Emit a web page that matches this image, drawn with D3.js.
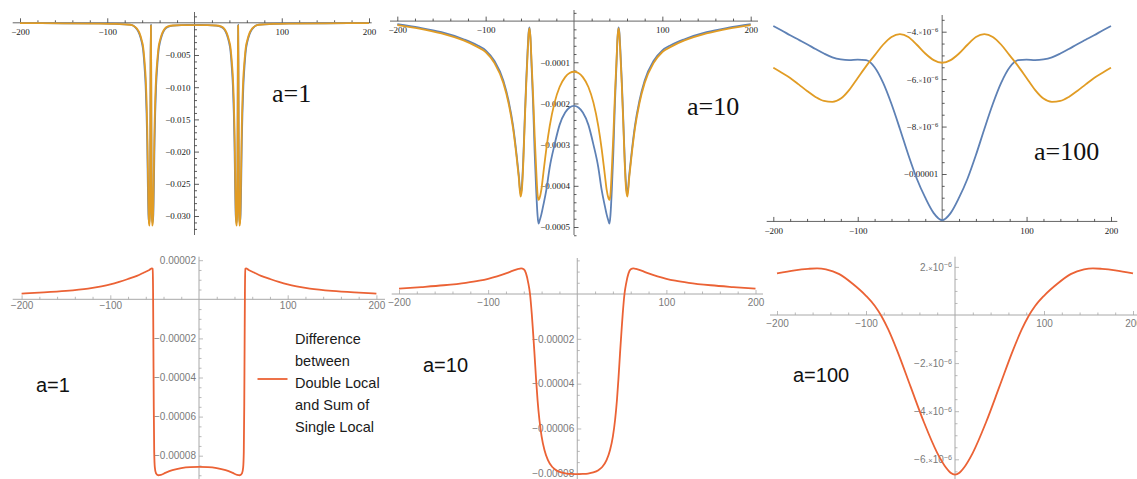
<!DOCTYPE html>
<html><head><meta charset="utf-8">
<script src="https://cdn.jsdelivr.net/npm/d3@7"></script>
<style>body{margin:0;background:#fff}svg{display:block}</style>
</head><body>
<svg id="c" width="1137" height="479"></svg>
<script>
// ---------------- DATA ----------------
const xTicks = [-200, -100, 100, 200];
const xTickLabels = ['\u2212200', '\u2212100', '100', '200'];

// Panel A (a=1, top-left)
const xA = [-200,-150,-110,-90,-80,-74,-70,-66,-63,-60.5,-59,-58,-57,-56,-55,-54.2,-53.5,-52.8,-52.1,-51.5,-51,-50.6,-50.3,-50,-49.7,-49.4,-49,-48.5,-47.9,-47.2,-46.5,-45.8,-45,-44,-43,-42,-41,-39.5,-37,-34,-30,-25,-15,0,
  15,25,30,34,37,39.5,41,42,43,44,45,45.8,46.5,47.2,47.9,48.5,49,49.4,49.7,50,50.3,50.6,51,51.5,52.1,52.8,53.5,54.2,55,56,57,58,59,60.5,63,66,70,74,80,90,110,150,200];
const orangeA = [-0.00005,-0.00008,-0.00012,-0.00018,-0.00025,-0.0003,-0.00045,-0.0009,-0.0016,-0.0027,-0.0036,-0.0048,-0.0064,-0.0084,-0.0118,-0.016,-0.022,-0.028,-0.0312,-0.0315,-0.029,-0.018,-0.006,-0.0004,-0.006,-0.018,-0.029,-0.0315,-0.0312,-0.028,-0.022,-0.016,-0.0118,-0.0084,-0.0064,-0.0048,-0.0036,-0.0027,-0.0016,-0.0009,-0.00055,-0.00042,-0.00036,-0.00035,
  -0.00036,-0.00042,-0.00055,-0.0009,-0.0016,-0.0027,-0.0036,-0.0048,-0.0064,-0.0084,-0.0118,-0.016,-0.022,-0.028,-0.0312,-0.0315,-0.029,-0.018,-0.006,-0.0004,-0.006,-0.018,-0.029,-0.0315,-0.0312,-0.028,-0.022,-0.016,-0.0118,-0.0084,-0.0064,-0.0048,-0.0036,-0.0027,-0.0016,-0.0009,-0.00045,-0.0003,-0.00025,-0.00018,-0.00012,-0.00008,-0.00005];
const blueA = [-0.00004,-0.00007,-0.0001,-0.00016,-0.00023,-0.00028,-0.00045,-0.001,-0.0018,-0.003,-0.0041,-0.0055,-0.0074,-0.0098,-0.0138,-0.0185,-0.025,-0.0298,-0.031,-0.031,-0.0285,-0.017,-0.0055,-0.0003,-0.0055,-0.017,-0.0285,-0.031,-0.031,-0.0298,-0.025,-0.0185,-0.0138,-0.0098,-0.0074,-0.0055,-0.0041,-0.003,-0.0018,-0.001,-0.0006,-0.00043,-0.00035,-0.00034,
  -0.00035,-0.00043,-0.0006,-0.001,-0.0018,-0.003,-0.0041,-0.0055,-0.0074,-0.0098,-0.0138,-0.0185,-0.025,-0.0298,-0.031,-0.031,-0.0285,-0.017,-0.0055,-0.0003,-0.0055,-0.017,-0.0285,-0.031,-0.031,-0.0298,-0.025,-0.0185,-0.0138,-0.0098,-0.0074,-0.0055,-0.0041,-0.003,-0.0018,-0.001,-0.00045,-0.00028,-0.00023,-0.00016,-0.0001,-0.00007,-0.00004];
const yTicksA = [-0.005,-0.010,-0.015,-0.020,-0.025,-0.030];
const yLabelsA = ['\u22120.005','\u22120.010','\u22120.015','\u22120.020','\u22120.025','\u22120.030'];

// Panel B (a=10, top-middle)
const xB = [-200,-175,-150,-125,-110,-100,-90,-80,-74,-69,-65,-62.5,-60.5,-59,-57.5,-55.8,-54,-52.5,-51.3,-50.3,-49.3,-48,-46.3,-44.5,-42.8,-41.3,-40.2,-39,-37,-35,-31.3,-27.5,-22,-16.3,-10,-5,0,5,10,16.3,22,27.5,31.3,35,37,39,40.2,41.3,42.8,44.5,46.3,48,49.3,50.3,51.3,52.5,54,55.8,57.5,59,60.5,62.5,65,69,74,80,90,100,110,125,150,175,200];
const orangeB = [-0.0000095,-0.000018,-0.00003,-0.000047,-0.000062,-0.000075,-0.000102,-0.00015,-0.0002,-0.00026,-0.00033,-0.00038,-0.000426,-0.00041,-0.00035,-0.00025,-0.00015,-0.00008,-0.00003,-0.0000175,-0.00004,-0.0001,-0.00018,-0.00028,-0.00036,-0.00042,-0.000434,-0.00043,-0.00041,-0.000375,-0.00031,-0.000255,-0.000198,-0.00016,-0.000136,-0.000126,-0.000123,
  -0.000126,-0.000136,-0.00016,-0.000198,-0.000255,-0.00031,-0.000375,-0.00041,-0.00043,-0.000434,-0.00042,-0.00036,-0.00028,-0.00018,-0.0001,-0.00004,-0.0000175,-0.00003,-0.00008,-0.00015,-0.00025,-0.00035,-0.00041,-0.000426,-0.00038,-0.00033,-0.00026,-0.0002,-0.00015,-0.000102,-0.000075,-0.000062,-0.000047,-0.00003,-0.000018,-0.0000095];
const blueB = [-0.0000075,-0.000016,-0.000027,-0.000044,-0.000058,-0.000071,-0.000097,-0.000144,-0.000194,-0.000254,-0.000324,-0.000374,-0.00042,-0.0004,-0.00034,-0.00024,-0.00014,-0.00007,-0.000026,-0.000015,-0.00004,-0.00011,-0.0002,-0.00032,-0.00041,-0.00047,-0.000492,-0.000485,-0.00047,-0.00045,-0.00041,-0.000355,-0.0003,-0.000252,-0.000222,-0.00021,-0.000206,
  -0.00021,-0.000222,-0.000252,-0.0003,-0.000355,-0.00041,-0.00045,-0.00047,-0.000485,-0.000492,-0.00047,-0.00041,-0.00032,-0.0002,-0.00011,-0.00004,-0.000015,-0.000026,-0.00007,-0.00014,-0.00024,-0.00034,-0.0004,-0.00042,-0.000374,-0.000324,-0.000254,-0.000194,-0.000144,-0.000097,-0.000071,-0.000058,-0.000044,-0.000027,-0.000016,-0.0000075];
const yTicksB = [-0.0001,-0.0002,-0.0003,-0.0004,-0.0005];
const yLabelsB = ['\u22120.0001','\u22120.0002','\u22120.0003','\u22120.0004','\u22120.0005'];

// Panel C (a=100, top-right)
const xC = [-200,-190,-180,-170,-160,-150,-140,-130,-120,-110,-100,-90,-80,-70,-60,-50,-40,-30,-20,-10,0,10,20,30,40,50,60,70,80,90,100,110,120,130,140,150,160,170,180,190,200];
const blueC = [-3.76e-6,-3.95e-6,-4.15e-6,-4.34e-6,-4.53e-6,-4.73e-6,-4.92e-6,-5.08e-6,-5.17e-6,-5.2e-6,-5.18e-6,-5.2e-6,-5.5e-6,-6.15e-6,-7.05e-6,-8.1e-6,-9.2e-6,-1.02e-5,-1.1e-5,-1.165e-5,-1.195e-5,
  -1.165e-5,-1.1e-5,-1.02e-5,-9.2e-6,-8.1e-6,-7.05e-6,-6.15e-6,-5.5e-6,-5.2e-6,-5.18e-6,-5.2e-6,-5.17e-6,-5.08e-6,-4.92e-6,-4.73e-6,-4.53e-6,-4.34e-6,-4.15e-6,-3.95e-6,-3.76e-6];
const orangeC = [-5.52e-6,-5.73e-6,-5.95e-6,-6.22e-6,-6.5e-6,-6.75e-6,-6.92e-6,-6.96e-6,-6.82e-6,-6.45e-6,-5.95e-6,-5.45e-6,-5.0e-6,-4.55e-6,-4.22e-6,-4.1e-6,-4.22e-6,-4.55e-6,-4.92e-6,-5.2e-6,-5.31e-6,
  -5.2e-6,-4.92e-6,-4.55e-6,-4.22e-6,-4.1e-6,-4.22e-6,-4.55e-6,-5.0e-6,-5.45e-6,-5.95e-6,-6.45e-6,-6.82e-6,-6.96e-6,-6.92e-6,-6.75e-6,-6.5e-6,-6.22e-6,-5.95e-6,-5.73e-6,-5.52e-6];
const yTicksC = [-4e-6,-6e-6,-8e-6,-1e-5];
const yLabelsC = [['\u22124.','\u22126'],['\u22126.','\u22126'],['\u22128.','\u22126'],['\u22120.00001',null]];

// Panel D (a=1, bottom-left)
const xD = [-200,-175,-150,-125,-110,-100,-90,-80,-70,-62,-56,-53,-52.2,-51.8,-51.4,-51,-50.5,-49.8,-48.5,-46,-43,-38,-30,-20,-10,0,10,20,30,38,43,46,48.5,49.8,50.5,51,51.4,51.8,52.2,53,56,62,70,80,90,100,110,125,150,175,200];
const diffD = [2.9e-6,3.5e-6,4.3e-6,5.5e-6,6.6e-6,7.6e-6,8.9e-6,1.04e-5,1.2e-5,1.37e-5,1.5e-5,1.58e-5,1.56e-5,5e-6,-2.5e-5,-5.5e-5,-7.8e-5,-8.6e-5,-8.9e-5,-9.0e-5,-8.98e-5,-8.88e-5,-8.74e-5,-8.63e-5,-8.58e-5,-8.57e-5,
  -8.58e-5,-8.63e-5,-8.74e-5,-8.88e-5,-8.98e-5,-9.0e-5,-8.9e-5,-8.6e-5,-7.8e-5,-5.5e-5,-2.5e-5,5e-6,1.56e-5,1.58e-5,1.5e-5,1.37e-5,1.2e-5,1.04e-5,8.9e-6,7.6e-6,6.6e-6,5.5e-6,4.3e-6,3.5e-6,2.9e-6];
const yTicksD = [2e-5,-2e-5,-4e-5,-6e-5,-8e-5];
const yLabelsD = ['0.00002','\u22120.00002','\u22120.00004','\u22120.00006','\u22120.00008'];

// Panel E (a=10, bottom-middle)
const xE = [-200,-175,-150,-125,-110,-100,-90,-80,-72,-66,-63,-60,-57.5,-55,-53,-51,-50,-48,-46.2,-44.5,-42.5,-40,-36.8,-33,-28,-23.7,-18,-12,-6,0,6,12,18,23.7,28,33,36.8,40,42.5,44.5,46.2,48,50,51,53,55,57.5,60,63,66,72,80,90,100,110,125,150,175,200];
const diffE = [2.4e-6,3.1e-6,3.9e-6,5.0e-6,5.95e-6,6.8e-6,7.9e-6,9.2e-6,1.04e-5,1.12e-5,1.14e-5,1.1e-5,9.2e-6,5e-6,0,-9e-6,-1.45e-5,-2.65e-5,-3.8e-5,-4.75e-5,-5.6e-5,-6.35e-5,-6.96e-5,-7.4e-5,-7.72e-5,-7.86e-5,-7.96e-5,-8.01e-5,-8.03e-5,-8.04e-5,
  -8.03e-5,-8.01e-5,-7.96e-5,-7.86e-5,-7.72e-5,-7.4e-5,-6.96e-5,-6.35e-5,-5.6e-5,-4.75e-5,-3.8e-5,-2.65e-5,-1.45e-5,-9e-6,0,5e-6,9.2e-6,1.1e-5,1.14e-5,1.12e-5,1.04e-5,9.2e-6,7.9e-6,6.8e-6,5.95e-6,5.0e-6,3.9e-6,3.1e-6,2.4e-6];
const yTicksE = [-2e-5,-4e-5,-6e-5,-8e-5];
const yLabelsE = ['\u22120.00002','\u22120.00004','\u22120.00006','\u22120.00008'];

// Panel F (a=100, bottom-right)
const xF = [-200,-180,-165,-155,-145,-130,-115,-100,-90,-82.4,-75,-65,-50,-35,-20,-10,-5,0,5,10,20,35,50,65,75,82.4,90,100,115,130,145,155,165,180,200];
const diffF = [1.73e-6,1.86e-6,1.92e-6,1.94e-6,1.9e-6,1.7e-6,1.3e-6,0.8e-6,0.375e-6,-0.06e-6,-0.6e-6,-1.48e-6,-2.97e-6,-4.45e-6,-5.73e-6,-6.35e-6,-6.56e-6,-6.64e-6,
  -6.56e-6,-6.35e-6,-5.73e-6,-4.45e-6,-2.97e-6,-1.48e-6,-0.6e-6,-0.06e-6,0.375e-6,0.8e-6,1.3e-6,1.7e-6,1.9e-6,1.94e-6,1.92e-6,1.86e-6,1.73e-6];
const yTicksF = [2e-6,-2e-6,-4e-6,-6e-6];
const yLabelsF = [['2.','\u22126'],['\u22122.','\u22126'],['\u22124.','\u22126'],['\u22126.','\u22126']];

const legendLines = ['Difference','between','Double Local','and Sum of','Single Local'];

// ---------------- STYLE / LAYOUT ----------------
const BLUE = '#5E81B5', ORANGE = '#E19C24', RED = '#EB6235';
const OLD = {font:'"Liberation Serif","Times New Roman",serif', size:9, text:'#222', axis:'#666', tick:'#333', major:4.5, minor:2.5, lw:1.8};
const NEW = {font:'"Liberation Sans",Arial,Helvetica,sans-serif', size:10, text:'#7a7a7a', axis:'#a8a8a8', tick:'#a8a8a8', major:4, minor:2.5, lw:1.8};

const panels = [
  {st:OLD, xr:[20,369], yd:[0,-0.03], yr:[22.8,216], xAt:0, xLine:[12.7,371.7], yLine:[12,235],
   yT:yTicksA, yL:yLabelsA, minor:[0.001,-0.032,0.001], xPad:5.5, yPad:4,
   series:[[xA,blueA,BLUE],[xA,orangeA,ORANGE]], label:['a=1',272,101.5]},
  {st:OLD, xr:[397.3,750.7], yd:[0,-0.0005], yr:[21.1,227], xAt:0, xLine:[390,758], yLine:[10,235],
   yT:yTicksB, yL:yLabelsB, minor:[0.00002,-0.00052,0.00002], xPad:5.5, yPad:4,
   series:[[xB,blueB,BLUE],[xB,orangeB,ORANGE]], label:['a=10',687,115]},
  {st:OLD, xr:[773.3,1111], yd:[-4e-6,-1e-5], yr:[31.7,174], xAt:-1.2e-5, xLine:[766.7,1117.3], yLine:[15,221],
   yT:yTicksC, yL:yLabelsC, minor:[-3.5e-6,-1.15e-5,5e-7], xPad:6, yPad:4,
   series:[[xC,blueC,BLUE],[xC,orangeC,ORANGE]], label:['a=100',1034,159.5]},
  {st:NEW, xr:[21.6,376.4], yd:[0,-8e-5], yr:[299.3,455.7], xAt:0, xLine:[12.7,385], yLine:[256.7,479],
   yT:yTicksD, yL:yLabelsD, minor:[2e-5,-9e-5,5e-6], xPad:2.5, yPad:3,
   series:[[xD,diffD,RED]], label:['a=1',36,391.5], legend:true},
  {st:NEW, xr:[399,755.5], yd:[0,-8e-5], yr:[294,473.3], xAt:0, xLine:[391.7,763], yLine:[258,479],
   yT:yTicksE, yL:yLabelsE, minor:[1.5e-5,-8e-5,5e-6], xPad:5, yPad:3,
   series:[[xE,diffE,RED]], label:['a=10',423,371.5]},
  {st:NEW, xr:[777,1133], yd:[0,-6e-6], yr:[315,459.3], xAt:0, xLine:[770,1137], yLine:[256.7,479],
   yT:yTicksF, yL:yLabelsF, minor:[2e-6,-6.5e-6,5e-7], xPad:5, yPad:3,
   series:[[xF,diffF,RED]], label:['a=100',793,381.5]}
];

const svg = d3.select('#c');

function styleAxis(sel, st) {
  sel.select('.domain').remove();
  sel.attr('font-family', st.font).attr('font-size', st.size);
  sel.selectAll('.tick line').attr('stroke', st.tick).attr('stroke-width', 0.8);
  sel.selectAll('.tick text').attr('fill', st.text);
}

function buildSup(textSel, parts, st) {
  textSel.each(function(d, i) {
    const t = d3.select(this);
    const p = parts[i];
    t.text(null);
    if (p[1] === null) { t.text(p[0]); return; }
    t.append('tspan').text(p[0]);
    t.append('tspan').attr('font-size', st.size * 0.75).text('\u00d7');
    t.append('tspan').text('10');
    t.append('tspan').attr('font-size', st.size * 0.72).attr('dy', '-0.45em').text(p[1]);
  });
}

panels.forEach(p => {
  const st = p.st;
  const x = d3.scaleLinear().domain([-200, 200]).range(p.xr);
  const y = d3.scaleLinear().domain(p.yd).range(p.yr);
  const g = svg.append('g');
  const ax = y(p.xAt), ay = x(0);

  g.append('line').attr('x1', p.xLine[0]).attr('x2', p.xLine[1]).attr('y1', ax).attr('y2', ax)
    .attr('stroke', st.axis).attr('stroke-width', 1);
  g.append('line').attr('x1', ay).attr('x2', ay).attr('y1', p.yLine[0]).attr('y2', p.yLine[1])
    .attr('stroke', st.axis).attr('stroke-width', 1);

  const xMinor = d3.range(-200, 201, 20).filter(v => v % 100 !== 0);
  g.append('g').attr('transform', `translate(0,${ax})`)
    .call(d3.axisBottom(x).tickValues(xMinor).tickSize(-st.minor).tickFormat(''))
    .call(s => styleAxis(s, st));
  g.append('g').attr('transform', `translate(0,${ax})`)
    .call(d3.axisBottom(x).tickValues(xTicks).tickSize(-st.major).tickPadding(p.xPad).tickFormat((d, i) => xTickLabels[i]))
    .call(s => styleAxis(s, st));

  const [m0, m1, ms] = p.minor;
  const n = Math.round((m0 - m1) / ms);
  const yMinor = d3.range(n + 1).map(k => m0 - k * ms)
    .filter(v => !p.yT.some(t => Math.abs(t - v) < ms * 0.1) && Math.abs(v) > ms * 0.1);
  g.append('g').attr('transform', `translate(${ay},0)`)
    .call(d3.axisLeft(y).tickValues(yMinor).tickSize(-st.minor).tickFormat(''))
    .call(s => styleAxis(s, st));
  const ya = g.append('g').attr('transform', `translate(${ay},0)`)
    .call(d3.axisLeft(y).tickValues(p.yT).tickSize(-st.major).tickPadding(p.yPad)
      .tickFormat((d, i) => Array.isArray(p.yL[i]) ? '' : p.yL[i]))
    .call(s => styleAxis(s, st));
  if (Array.isArray(p.yL[0])) buildSup(ya.selectAll('.tick text'), p.yL, st);

  const line = d3.line().x(d => x(d[0])).y(d => y(d[1])).curve(d3.curveMonotoneX);
  p.series.forEach(([xs, ys, c]) => {
    g.append('path').datum(d3.zip(xs, ys)).attr('d', line)
      .attr('fill', 'none').attr('stroke', c).attr('stroke-width', st.lw)
      .attr('stroke-linejoin', 'round');
  });

  const isOld = st === OLD;
  g.append('text').attr('x', p.label[1]).attr('y', p.label[2])
    .attr('font-family', isOld ? OLD.font : NEW.font)
    .attr('font-size', isOld ? 26 : 20).attr('fill', '#111').text(p.label[0]);

  if (p.legend) {
    const lg = g.append('g');
    lg.append('line').attr('x1', 257.5).attr('x2', 287.5).attr('y1', 379).attr('y2', 379)
      .attr('stroke', RED).attr('stroke-width', 1.8);
    lg.selectAll('text').data(legendLines).join('text')
      .attr('x', 295).attr('y', (d, i) => 343.5 + i * 22)
      .attr('font-family', NEW.font).attr('font-size', 14.5).attr('fill', '#1a1a1a')
      .text(d => d);
  }
});
</script>
</body></html>
